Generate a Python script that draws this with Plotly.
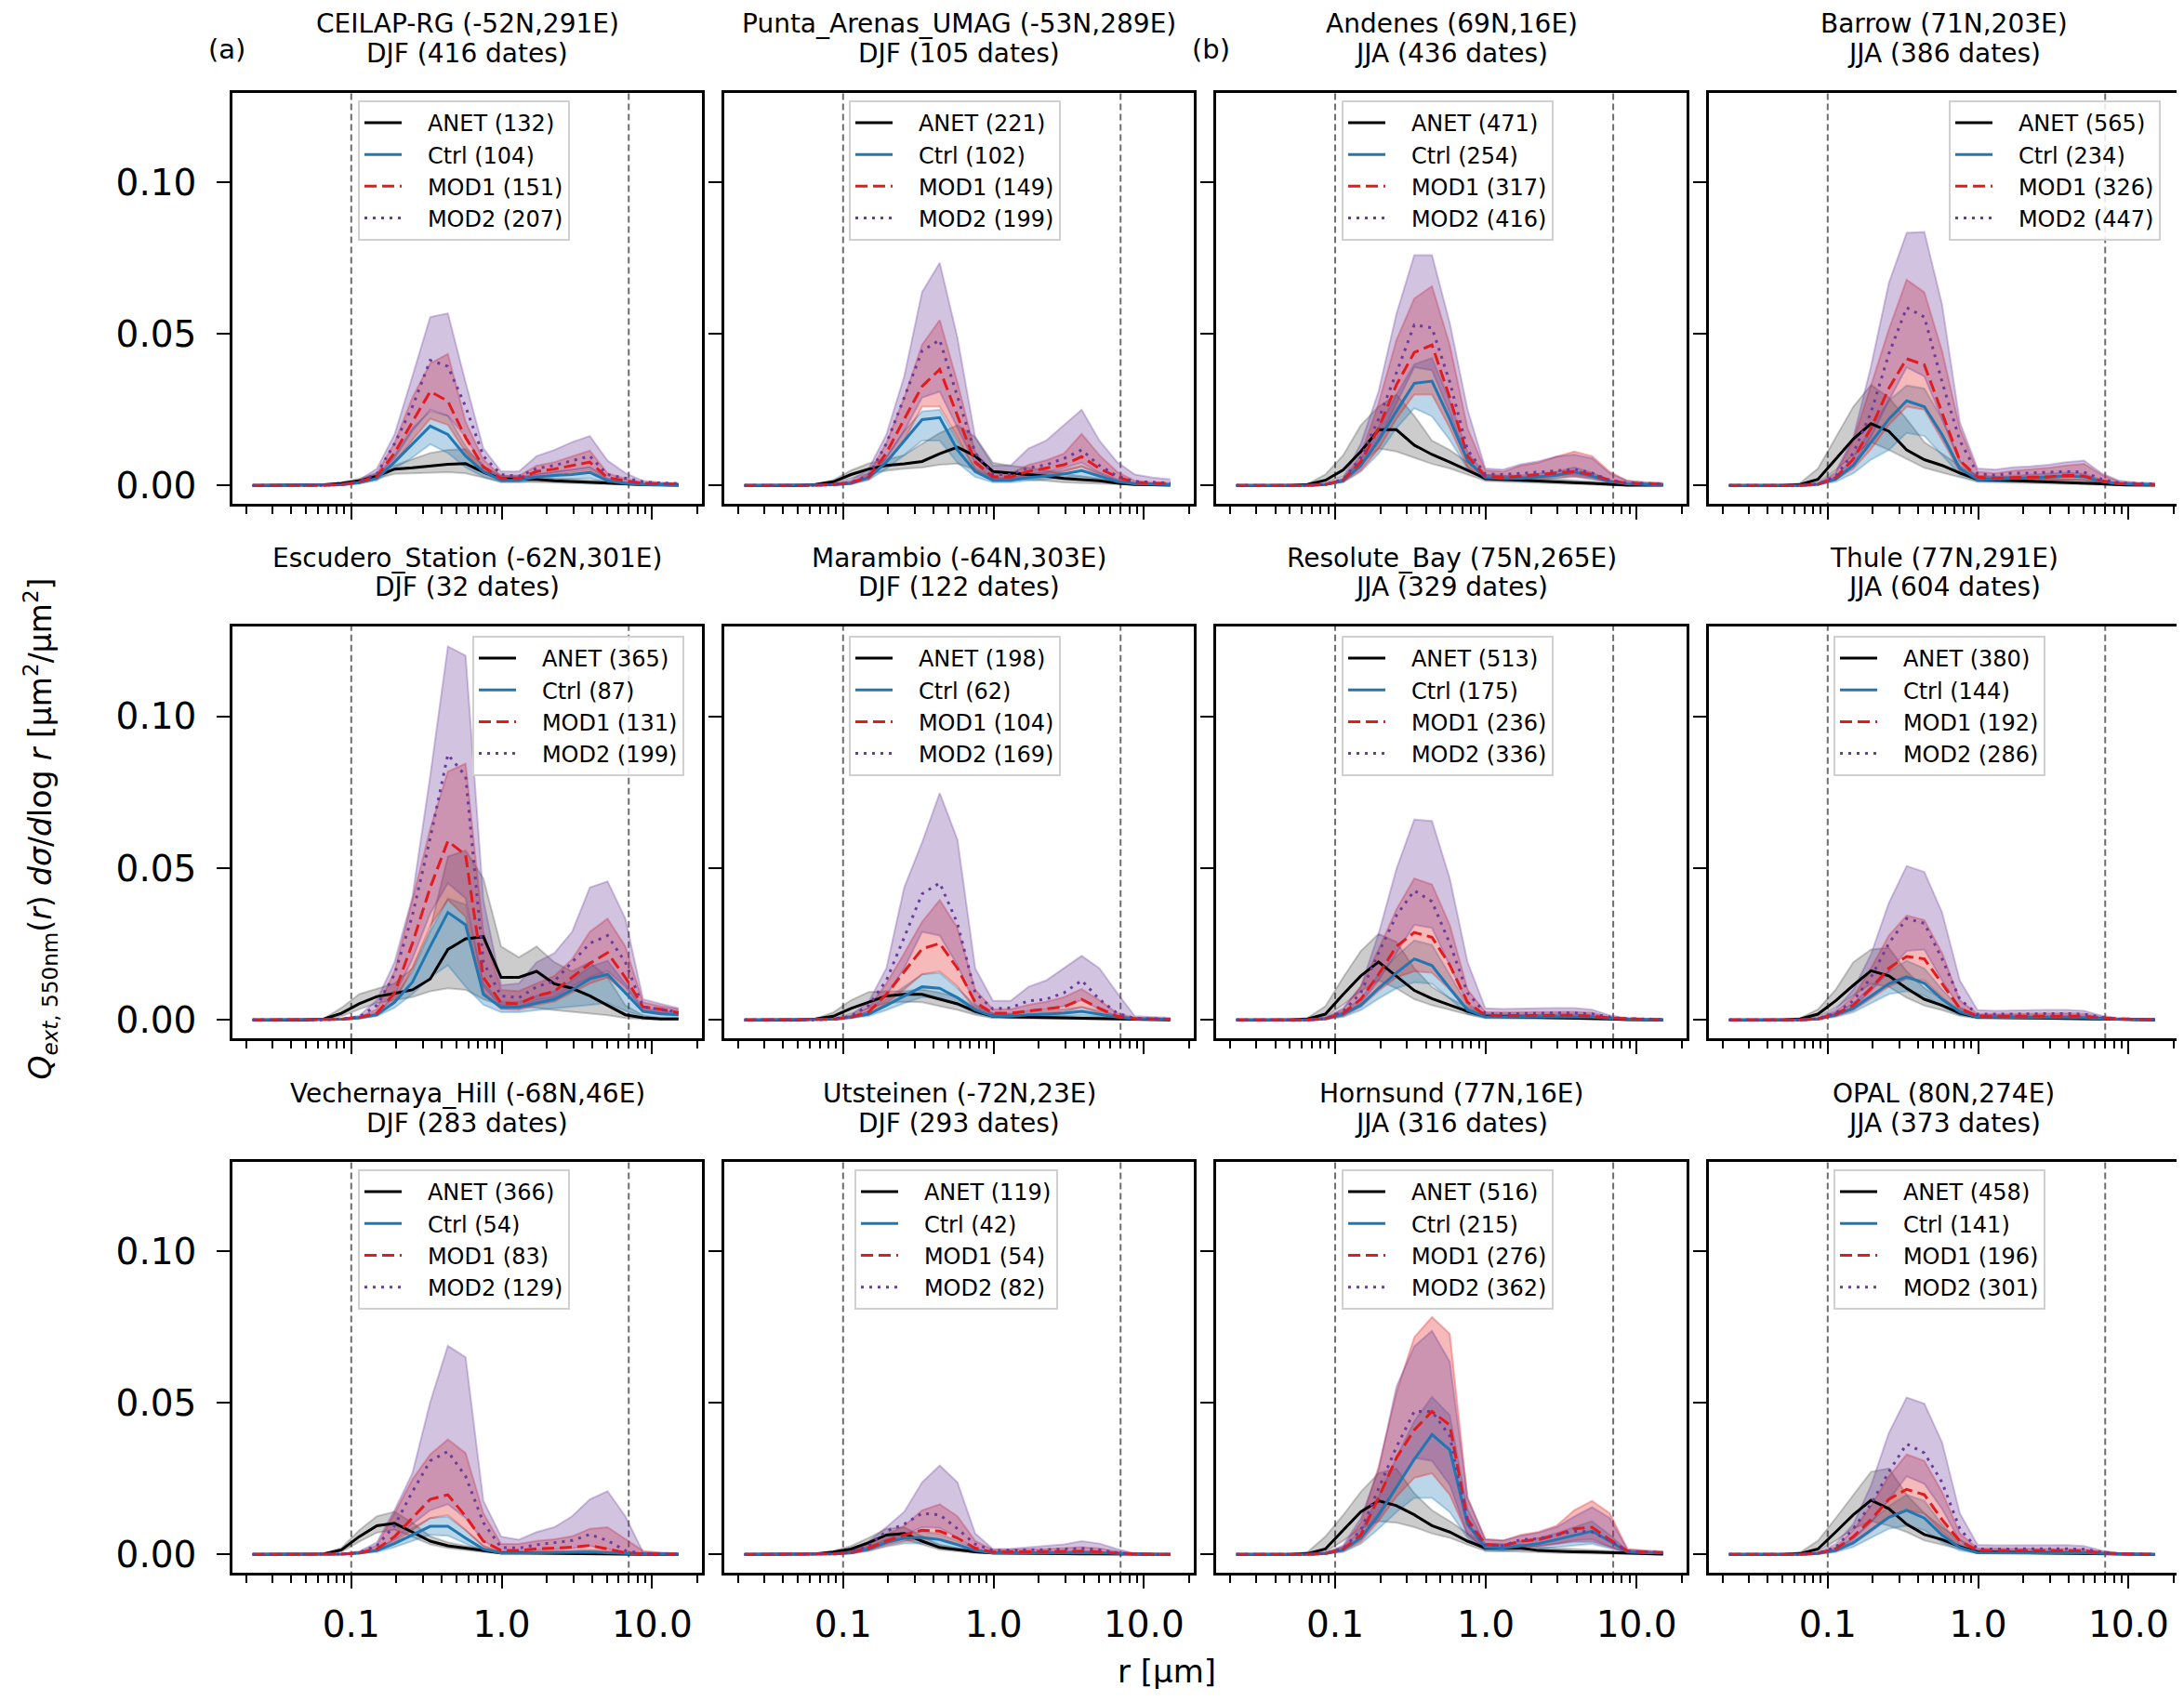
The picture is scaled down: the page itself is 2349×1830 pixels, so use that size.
import plotly.graph_objects as go

# radius bins [um]
R_UM = [0.0221, 0.0290, 0.0381, 0.0500, 0.0656, 0.0861, 0.113, 0.148, 0.194, 0.255, 0.335, 0.439,
        0.576, 0.756, 0.992, 1.302, 1.708, 2.241, 2.940, 3.857, 5.061, 6.641, 8.713, 11.43, 15.0]
GUIDE_R = [0.1, 7.0]
SCALE = 1e-3  # values below are in units of 1e-3 um2/um2

SITES = ["CEILAP-RG (-52N,291E)", "Punta_Arenas_UMAG (-53N,289E)", "Andenes (69N,16E)", "Barrow (71N,203E)",
         "Escudero_Station (-62N,301E)", "Marambio (-64N,303E)", "Resolute_Bay (75N,265E)", "Thule (77N,291E)",
         "Vechernaya_Hill (-68N,46E)", "Utsteinen (-72N,23E)", "Hornsund (77N,16E)", "OPAL (80N,274E)"]
SEASONS = ["DJF", "DJF", "JJA", "JJA", "DJF", "DJF", "JJA", "JJA", "DJF", "DJF", "JJA", "JJA"]
N_DATES = [416, 105, 436, 386, 32, 122, 329, 604, 283, 293, 316, 373]
N_ANET = [132, 221, 471, 565, 365, 198, 513, 380, 366, 119, 516, 458]
N_CTRL = [104, 102, 254, 234, 87, 62, 175, 144, 54, 42, 215, 141]
N_MOD1 = [151, 149, 317, 326, 131, 104, 236, 192, 83, 54, 276, 196]
N_MOD2 = [207, 199, 416, 447, 199, 169, 336, 286, 129, 82, 362, 301]

# CEILAP-RG
ceilap_anet = [0, 0, 0, 0, 0.2, 0.7, 1.5, 3.1, 5.4, 5.8, 6.4, 7.0, 7.2, 4.4, 2.2, 2.2, 2.0, 1.5, 1.3, 1.1, 0.8, 0.5, 0.2, 0.1, 0.1]
ceilap_anet_lo = [0, 0, 0, 0, 0.1, 0.4, 1.0, 2.2, 3.8, 4.0, 4.2, 4.4, 4.0, 2.6, 1.2, 1.2, 1.0, 0.8, 0.6, 0.5, 0.4, 0.2, 0.1, 0, 0]
ceilap_anet_hi = [0, 0, 0, 0, 0.3, 1.0, 2.2, 4.1, 6.6, 8.7, 10.7, 11.7, 12.0, 6.5, 3.2, 3.2, 3.0, 2.4, 2.1, 1.9, 1.4, 0.8, 0.3, 0.2, 0.1]
ceilap_ctrl = [0, 0, 0, 0, 0, 0.2, 0.9, 2.3, 7.7, 13.8, 19.6, 16.8, 9.7, 4.6, 1.7, 1.7, 2.8, 3.3, 3.6, 4.3, 1.5, 0.7, 0.3, 0.2, 0.1]
ceilap_ctrl_lo = [0, 0, 0, 0, 0, 0.1, 0.6, 1.6, 5.5, 9.2, 13.6, 10.7, 6.0, 2.8, 1.0, 1.0, 1.6, 1.9, 2.0, 2.4, 0.8, 0.4, 0.1, 0.1, 0]
ceilap_ctrl_hi = [0, 0, 0, 0, 0, 0.3, 1.2, 3.0, 10.0, 18.9, 24.5, 23.0, 13.0, 6.2, 2.4, 2.4, 3.8, 4.6, 5.1, 6.0, 2.2, 1.0, 0.5, 0.3, 0.2]
ceilap_mod1 = [0, 0, 0, 0, 0, 0.3, 1.2, 3.0, 10.7, 21.0, 31.0, 27.8, 15.8, 6.1, 2.3, 2.3, 4.6, 5.4, 6.6, 7.7, 2.6, 1.5, 0.7, 0.5, 0.4]
ceilap_mod1_lo = [0, 0, 0, 0, 0, 0.2, 0.8, 2.2, 7.5, 15.0, 22.0, 20.0, 11.0, 4.0, 1.5, 1.5, 3.0, 3.5, 4.3, 5.0, 1.7, 1.0, 0.4, 0.3, 0.2]
ceilap_mod1_hi = [0, 0, 0, 0, 0, 0.4, 1.6, 4.0, 14.0, 29.0, 40.3, 43.4, 21.0, 8.5, 3.2, 3.2, 6.5, 7.7, 9.5, 11.5, 4.0, 2.2, 1.0, 0.8, 0.6]
ceilap_mod2 = [0, 0, 0, 0, 0, 0.3, 1.3, 3.8, 13.8, 26.0, 41.3, 39.3, 26.0, 9.7, 3.6, 3.0, 5.6, 6.6, 8.2, 9.7, 3.6, 2.3, 1.2, 0.8, 0.6]
ceilap_mod2_lo = [0, 0, 0, 0, 0, 0.2, 0.9, 2.6, 9.0, 18.0, 25.0, 23.0, 16.0, 6.0, 2.2, 2.0, 3.5, 4.2, 5.2, 6.0, 2.2, 1.4, 0.7, 0.5, 0.4]
ceilap_mod2_hi = [0, 0, 0, 0, 0, 0.4, 1.8, 5.5, 16.8, 36.0, 55.6, 56.8, 34.0, 12.2, 4.6, 4.6, 9.7, 11.7, 14.3, 16.3, 8.2, 4.1, 1.5, 1.0, 0.8]

# Punta_Arenas_UMAG
punta_anet = [0, 0, 0, 0, 0.3, 1.2, 3.6, 5.4, 6.6, 7.1, 7.9, 10.5, 12.6, 9.7, 4.6, 4.1, 3.8, 3.1, 2.3, 1.9, 1.5, 0.8, 0.3, 0.2, 0.1]
punta_anet_lo = [0, 0, 0, 0, 0.1, 0.7, 2.2, 3.8, 4.8, 5.5, 5.9, 6.8, 7.2, 5.2, 2.5, 2.2, 2.0, 1.5, 1.0, 0.8, 0.6, 0.3, 0.1, 0, 0]
punta_anet_hi = [0, 0, 0, 0, 0.5, 1.8, 5.0, 7.3, 8.5, 10.0, 13.8, 17.3, 19.9, 16.0, 7.5, 6.5, 5.8, 4.8, 3.8, 3.0, 2.4, 1.3, 0.5, 0.3, 0.2]
punta_ctrl = [0, 0, 0, 0, 0, 0.2, 0.7, 2.6, 7.7, 14.8, 21.7, 22.4, 11.7, 4.6, 1.7, 1.7, 2.6, 3.1, 3.8, 4.9, 3.1, 1.3, 0.5, 0.3, 0.2]
punta_ctrl_lo = [0, 0, 0, 0, 0, 0.1, 0.4, 1.8, 5.5, 10.0, 14.8, 14.8, 7.5, 2.8, 1.0, 1.0, 1.6, 2.0, 2.4, 3.0, 1.8, 0.7, 0.2, 0.1, 0.1]
punta_ctrl_hi = [0, 0, 0, 0, 0, 0.3, 1.0, 3.3, 9.5, 18.0, 24.5, 25.0, 15.0, 6.0, 2.4, 2.4, 3.5, 4.2, 5.2, 6.5, 4.2, 1.8, 0.7, 0.4, 0.3]
punta_mod1 = [0, 0, 0, 0, 0, 0.3, 0.9, 2.8, 10.7, 21.9, 32.7, 38.3, 23.0, 7.7, 2.8, 2.8, 4.6, 5.6, 6.8, 9.5, 5.6, 2.8, 1.0, 0.8, 0.6]
punta_mod1_lo = [0, 0, 0, 0, 0, 0.2, 0.6, 2.0, 7.5, 15.0, 26.0, 26.0, 16.0, 5.0, 1.8, 1.8, 3.0, 3.7, 4.5, 6.2, 3.5, 1.8, 0.6, 0.5, 0.4]
punta_mod1_hi = [0, 0, 0, 0, 0, 0.4, 1.4, 3.8, 14.0, 29.0, 46.4, 54.6, 34.0, 11.0, 4.0, 4.0, 6.8, 8.3, 10.5, 17.0, 10.0, 4.5, 1.5, 1.0, 0.8]
punta_mod2 = [0, 0, 0, 0, 0, 0.3, 1.0, 3.3, 13.8, 29.0, 44.4, 48.0, 29.0, 10.7, 3.6, 3.6, 5.8, 6.8, 8.9, 11.7, 6.6, 3.1, 1.3, 1.0, 0.8]
punta_mod2_lo = [0, 0, 0, 0, 0, 0.2, 0.7, 2.6, 9.0, 18.0, 29.0, 31.0, 19.0, 7.0, 2.3, 2.3, 3.7, 4.4, 5.8, 7.5, 4.2, 2.0, 0.8, 0.6, 0.5]
punta_mod2_hi = [0, 0, 0, 0, 0, 0.5, 1.8, 5.5, 16.8, 36.0, 63.8, 73.5, 48.7, 15.8, 6.6, 6.6, 12.2, 14.8, 19.9, 25.0, 14.8, 7.7, 3.6, 2.6, 2.0]

# Andenes
andenes_anet = [0, 0, 0, 0, 0.3, 1.7, 5.1, 11.2, 18.4, 18.4, 13.3, 10.2, 7.7, 4.9, 2.3, 2.0, 1.7, 1.3, 1.1, 0.9, 0.7, 0.3, 0.1, 0.1, 0.1]
andenes_anet_lo = [0, 0, 0, 0, 0.2, 0.9, 3.0, 7.0, 12.2, 11.2, 9.2, 7.1, 5.6, 3.5, 1.5, 1.2, 1.0, 0.7, 0.5, 0.4, 0.3, 0.1, 0, 0, 0]
andenes_anet_hi = [0, 0, 0, 0, 0.5, 3.6, 10.0, 19.9, 26.0, 30.0, 23.0, 14.8, 11.7, 7.5, 3.5, 3.2, 2.8, 2.3, 2.0, 1.7, 1.3, 0.6, 0.2, 0.1, 0.1]
andenes_ctrl = [0, 0, 0, 0, 0, 0.3, 1.5, 6.6, 14.8, 24.5, 33.7, 34.4, 21.9, 8.2, 2.6, 2.3, 2.3, 2.8, 3.4, 4.4, 3.1, 1.3, 0.5, 0.3, 0.2]
andenes_ctrl_lo = [0, 0, 0, 0, 0, 0.2, 1.0, 4.5, 10.5, 18.9, 25.5, 22.8, 15.0, 5.5, 1.6, 1.5, 1.5, 1.8, 2.2, 2.8, 2.0, 0.8, 0.3, 0.2, 0.1]
andenes_ctrl_hi = [0, 0, 0, 0, 0, 0.4, 2.0, 8.5, 19.0, 30.0, 40.0, 42.0, 28.0, 11.0, 3.5, 3.2, 3.2, 3.8, 4.5, 6.0, 4.2, 1.8, 0.7, 0.4, 0.3]
andenes_mod1 = [0, 0, 0, 0, 0, 0.3, 1.8, 7.7, 18.9, 33.2, 43.9, 46.4, 29.0, 9.7, 3.1, 2.6, 3.1, 3.6, 4.1, 4.6, 3.6, 1.7, 0.7, 0.5, 0.4]
andenes_mod1_lo = [0, 0, 0, 0, 0, 0.2, 1.2, 5.0, 12.0, 22.0, 30.0, 30.0, 19.0, 6.0, 2.0, 1.7, 2.0, 2.3, 2.6, 3.0, 2.3, 1.0, 0.4, 0.3, 0.2]
andenes_mod1_hi = [0, 0, 0, 0, 0, 0.4, 2.0, 10.0, 27.0, 48.0, 61.7, 65.8, 46.4, 18.9, 5.0, 4.5, 6.5, 7.5, 9.5, 11.2, 9.7, 4.5, 1.5, 1.0, 0.8]
andenes_mod2 = [0, 0, 0, 0, 0, 0.3, 2.0, 9.2, 21.9, 37.2, 53.0, 52.0, 34.2, 11.7, 3.8, 3.6, 4.1, 4.4, 4.8, 5.4, 4.1, 1.7, 0.8, 0.6, 0.5]
andenes_mod2_lo = [0, 0, 0, 0, 0, 0.2, 1.4, 6.0, 15.0, 27.0, 39.0, 38.0, 24.0, 8.0, 2.4, 2.3, 2.6, 2.9, 3.2, 3.5, 2.6, 1.1, 0.5, 0.4, 0.3]
andenes_mod2_hi = [0, 0, 0, 0, 0, 0.5, 2.5, 13.8, 31.0, 56.6, 76.0, 76.0, 53.6, 25.0, 5.6, 5.2, 7.0, 8.0, 9.5, 10.2, 9.0, 4.0, 1.5, 1.0, 0.8]

# Barrow
barrow_anet = [0, 0, 0, 0, 0.3, 2.0, 8.7, 15.3, 20.4, 17.9, 11.7, 8.5, 6.6, 4.1, 2.0, 1.8, 1.7, 1.5, 1.3, 1.1, 0.9, 0.5, 0.2, 0.1, 0.1]
barrow_anet_lo = [0, 0, 0, 0, 0.2, 1.0, 5.0, 10.0, 14.3, 11.7, 8.7, 5.8, 4.2, 2.6, 1.2, 1.0, 0.9, 0.8, 0.6, 0.5, 0.4, 0.2, 0, 0, 0]
barrow_anet_hi = [0, 0, 0, 0, 0.8, 5.6, 15.8, 26.0, 33.2, 29.0, 21.9, 14.3, 10.5, 6.5, 3.2, 3.0, 2.8, 2.6, 2.4, 2.2, 1.8, 0.9, 0.3, 0.2, 0.1]
barrow_ctrl = [0, 0, 0, 0, 0, 0.4, 2.0, 6.6, 14.3, 21.9, 27.9, 26.0, 16.8, 5.6, 2.0, 2.0, 2.3, 2.6, 2.9, 3.1, 2.8, 1.3, 0.5, 0.3, 0.2]
barrow_ctrl_lo = [0, 0, 0, 0, 0, 0.2, 1.2, 4.0, 8.5, 11.7, 17.3, 16.3, 10.0, 3.5, 1.2, 1.2, 1.4, 1.6, 1.8, 1.9, 1.7, 0.7, 0.2, 0.1, 0.1]
barrow_ctrl_hi = [0, 0, 0, 0, 0, 0.6, 3.0, 9.0, 19.0, 28.0, 33.0, 32.0, 22.0, 8.0, 2.8, 2.8, 3.2, 3.6, 4.0, 4.3, 3.8, 1.8, 0.7, 0.4, 0.3]
barrow_mod1 = [0, 0, 0, 0, 0, 0.4, 2.5, 8.7, 18.9, 32.1, 41.8, 39.8, 24.0, 8.2, 2.8, 2.3, 2.6, 2.8, 2.8, 3.4, 3.1, 1.5, 0.6, 0.4, 0.3]
barrow_mod1_lo = [0, 0, 0, 0, 0, 0.2, 2.0, 5.5, 12.0, 20.0, 26.0, 25.0, 15.0, 4.5, 1.6, 1.5, 1.6, 1.8, 1.8, 2.0, 1.8, 0.8, 0.3, 0.2, 0.2]
barrow_mod1_hi = [0, 0, 0, 0, 0, 0.5, 4.0, 14.8, 33.0, 51.5, 67.9, 63.8, 44.4, 18.9, 4.5, 4.0, 4.8, 5.2, 5.8, 6.6, 7.1, 3.5, 1.2, 0.8, 0.6]
barrow_mod2 = [0, 0, 0, 0, 0, 0.4, 3.0, 10.7, 24.0, 43.4, 58.7, 55.6, 34.2, 14.8, 3.8, 3.4, 4.1, 4.1, 4.3, 4.6, 4.4, 2.0, 0.8, 0.6, 0.5]
barrow_mod2_lo = [0, 0, 0, 0, 0, 0.3, 2.5, 7.0, 16.0, 28.0, 39.0, 36.0, 22.0, 8.0, 2.3, 2.2, 2.6, 2.7, 2.8, 3.0, 2.9, 1.2, 0.5, 0.4, 0.3]
barrow_mod2_hi = [0, 0, 0, 0, 0, 0.6, 4.5, 15.8, 39.3, 66.8, 83.4, 83.7, 59.7, 20.9, 5.6, 5.2, 6.0, 6.3, 6.8, 7.7, 8.2, 4.0, 1.5, 1.0, 0.8]

# Escudero_Station
escudero_anet = [0, 0, 0, 0, 0.3, 2.2, 5.3, 7.7, 8.7, 9.9, 13.5, 23.2, 26.7, 27.4, 14.0, 14.0, 16.0, 11.9, 10.4, 7.9, 4.8, 1.7, 0.7, 0.3, 0.3]
escudero_anet_lo = [0, 0, 0, 0, 0.1, 1.2, 3.5, 5.5, 6.5, 7.5, 9.4, 10.4, 9.9, 6.8, 4.8, 4.5, 4.0, 3.2, 2.6, 2.0, 1.5, 0.6, 0.2, 0.1, 0.1]
escudero_anet_hi = [0, 0, 0, 0, 0.4, 4.0, 8.5, 10.2, 12.0, 17.0, 30.0, 53.8, 55.8, 46.6, 24.2, 20.6, 24.2, 19.0, 16.0, 19.0, 14.0, 4.8, 1.5, 0.6, 0.5]
escudero_ctrl = [0, 0, 0, 0, 0, 0.2, 0.7, 1.7, 5.8, 12.4, 24.2, 35.4, 31.3, 8.4, 4.1, 4.1, 5.6, 6.8, 9.9, 13.5, 15.0, 8.9, 2.8, 2.0, 1.7]
escudero_ctrl_lo = [0, 0, 0, 0, 0, 0.1, 0.4, 1.2, 4.0, 8.5, 14.0, 18.0, 10.9, 5.0, 2.5, 2.5, 3.2, 3.8, 4.5, 5.0, 5.5, 3.0, 1.0, 0.7, 0.6]
escudero_ctrl_hi = [0, 0, 0, 0, 0, 0.2, 1.0, 2.3, 7.5, 16.0, 29.0, 40.0, 38.0, 12.0, 6.0, 6.0, 8.0, 9.5, 13.0, 17.5, 19.5, 12.0, 4.0, 3.0, 2.5]
escudero_mod1 = [0, 0, 0, 0, 0, 0.2, 0.8, 2.2, 8.9, 25.2, 43.6, 58.9, 54.3, 14.0, 5.6, 5.3, 7.9, 9.4, 14.0, 18.6, 22.1, 14.0, 4.3, 3.5, 2.4]
escudero_mod1_lo = [0, 0, 0, 0, 0, 0.1, 0.5, 1.5, 6.0, 17.0, 31.0, 39.5, 34.0, 9.0, 3.5, 3.3, 5.0, 6.0, 9.0, 12.0, 14.0, 9.0, 2.8, 2.2, 1.6]
escudero_mod1_hi = [0, 0, 0, 0, 0, 0.3, 1.1, 3.5, 16.0, 39.5, 63.0, 81.8, 84.4, 29.0, 9.9, 9.5, 12.0, 14.5, 20.0, 29.0, 33.4, 24.2, 5.8, 4.5, 3.5]
escudero_mod2 = [0, 0, 0, 0, 0, 0.3, 1.0, 4.8, 15.0, 34.4, 59.9, 87.4, 80.3, 19.0, 7.9, 7.3, 10.9, 12.8, 19.0, 25.2, 27.8, 19.0, 4.3, 3.5, 2.6]
escudero_mod2_lo = [0, 0, 0, 0, 0, 0.1, 0.6, 2.0, 8.0, 20.0, 35.0, 45.0, 40.0, 11.0, 4.5, 4.3, 6.5, 7.5, 11.0, 14.0, 16.0, 11.0, 3.0, 2.3, 1.7]
escudero_mod2_hi = [0, 0, 0, 0, 0, 0.4, 1.4, 6.5, 19.0, 40.5, 80.3, 123.0, 120.0, 39.5, 11.4, 12.0, 19.0, 22.0, 29.0, 43.6, 45.6, 33.4, 6.8, 5.3, 3.8]

# Marambio
marambio_anet = [0, 0, 0, 0, 0.3, 1.2, 3.8, 5.8, 7.9, 8.4, 8.4, 6.8, 5.3, 2.8, 1.2, 1.0, 0.9, 0.8, 0.7, 0.6, 0.5, 0.3, 0.1, 0.1, 0]
marambio_anet_lo = [0, 0, 0, 0, 0.1, 0.5, 2.0, 3.8, 5.5, 6.0, 5.8, 4.5, 3.3, 1.7, 0.6, 0.5, 0.4, 0.4, 0.3, 0.3, 0.2, 0.1, 0, 0, 0]
marambio_anet_hi = [0, 0, 0, 0, 0.4, 2.5, 6.5, 9.2, 9.4, 9.5, 10.0, 9.0, 7.5, 4.2, 2.2, 1.8, 1.6, 1.4, 1.3, 1.2, 1.0, 0.5, 0.2, 0.1, 0.1]
marambio_ctrl = [0, 0, 0, 0, 0, 0.2, 0.9, 1.9, 4.8, 7.9, 10.9, 10.4, 7.3, 3.3, 1.2, 1.2, 1.7, 1.9, 2.2, 2.8, 1.9, 0.9, 0.4, 0.3, 0.2]
marambio_ctrl_lo = [0, 0, 0, 0, 0, 0.1, 0.5, 1.3, 3.2, 5.5, 7.5, 7.2, 5.0, 2.2, 0.7, 0.7, 1.0, 1.1, 1.3, 1.6, 1.1, 0.5, 0.2, 0.1, 0.1]
marambio_ctrl_hi = [0, 0, 0, 0, 0, 0.3, 1.4, 2.8, 6.8, 11.0, 15.0, 15.5, 10.5, 4.8, 1.9, 1.9, 2.6, 3.0, 3.5, 4.3, 3.0, 1.4, 0.6, 0.4, 0.3]
marambio_mod1 = [0, 0, 0, 0, 0, 0.2, 0.9, 2.6, 8.4, 16.0, 23.4, 25.2, 17.0, 5.8, 2.2, 2.2, 3.0, 3.6, 4.3, 6.8, 3.8, 1.2, 0.4, 0.3, 0.2]
marambio_mod1_lo = [0, 0, 0, 0, 0, 0.1, 0.6, 1.8, 5.5, 10.0, 15.0, 16.0, 11.0, 3.5, 1.3, 1.3, 1.8, 2.2, 2.6, 4.2, 2.3, 0.7, 0.2, 0.1, 0.1]
marambio_mod1_hi = [0, 0, 0, 0, 0, 0.3, 1.2, 4.0, 12.0, 22.0, 32.3, 39.5, 30.3, 10.0, 3.5, 3.5, 5.0, 6.0, 7.5, 10.2, 6.5, 2.2, 0.7, 0.5, 0.4]
marambio_mod2 = [0, 0, 0, 0, 0, 0.3, 1.2, 4.8, 13.0, 27.2, 41.5, 45.1, 31.8, 8.9, 3.6, 4.0, 6.3, 6.8, 8.9, 13.0, 6.8, 2.2, 0.5, 0.4, 0.3]
marambio_mod2_lo = [0, 0, 0, 0, 0, 0.1, 0.8, 2.6, 8.0, 17.0, 29.0, 27.8, 18.0, 5.0, 2.0, 2.0, 3.0, 3.5, 4.5, 6.5, 3.5, 1.0, 0.3, 0.2, 0.2]
marambio_mod2_hi = [0, 0, 0, 0, 0, 0.4, 1.6, 6.0, 17.0, 43.6, 58.4, 74.7, 59.4, 17.0, 6.3, 6.3, 10.9, 13.0, 17.0, 21.1, 17.0, 8.9, 1.2, 0.9, 0.7]

# Resolute_Bay
resolute_anet = [0, 0, 0, 0, 0.3, 1.9, 8.4, 14.5, 19.1, 14.5, 9.7, 7.0, 4.8, 2.8, 1.2, 1.1, 1.0, 0.9, 0.8, 0.7, 0.5, 0.3, 0.1, 0, 0]
resolute_anet_lo = [0, 0, 0, 0, 0.2, 1.0, 5.0, 9.5, 13.0, 10.4, 6.8, 4.8, 3.2, 1.8, 0.7, 0.6, 0.5, 0.4, 0.4, 0.3, 0.2, 0.1, 0, 0, 0]
resolute_anet_hi = [0, 0, 0, 0, 0.7, 4.5, 14.0, 22.7, 28.3, 25.7, 17.0, 10.9, 7.2, 4.2, 1.9, 1.8, 1.7, 1.6, 1.5, 1.3, 1.0, 0.5, 0.2, 0.1, 0.1]
resolute_ctrl = [0, 0, 0, 0, 0, 0.4, 1.9, 4.8, 10.4, 15.5, 20.1, 17.9, 10.4, 3.3, 1.0, 1.0, 1.1, 1.1, 1.0, 1.0, 0.9, 0.5, 0.2, 0.1, 0.1]
resolute_ctrl_lo = [0, 0, 0, 0, 0, 0.2, 1.0, 3.2, 7.0, 10.4, 12.4, 11.9, 7.0, 2.0, 0.5, 0.5, 0.5, 0.5, 0.5, 0.5, 0.4, 0.2, 0.1, 0, 0]
resolute_ctrl_hi = [0, 0, 0, 0, 0, 0.6, 2.8, 7.0, 15.0, 21.0, 26.2, 24.7, 15.0, 5.0, 1.8, 1.8, 1.9, 1.9, 1.9, 1.9, 1.6, 0.8, 0.3, 0.2, 0.1]
resolute_mod1 = [0, 0, 0, 0, 0, 0.4, 2.2, 6.8, 15.0, 24.2, 28.8, 27.2, 18.1, 5.8, 1.5, 1.4, 1.5, 1.5, 1.5, 1.5, 1.3, 0.6, 0.3, 0.2, 0.1]
resolute_mod1_lo = [0, 0, 0, 0, 0, 0.2, 1.2, 4.3, 9.5, 14.0, 16.0, 15.5, 10.0, 3.0, 0.8, 0.8, 0.8, 0.8, 0.8, 0.8, 0.7, 0.3, 0.1, 0.1, 0]
resolute_mod1_hi = [0, 0, 0, 0, 0, 0.6, 3.5, 11.0, 23.2, 36.4, 46.6, 44.6, 31.3, 10.0, 2.6, 2.5, 2.6, 2.6, 2.7, 2.7, 2.4, 1.0, 0.3, 0.2, 0.1]
resolute_mod2 = [0, 0, 0, 0, 0, 0.4, 2.8, 8.9, 22.1, 34.4, 42.6, 39.0, 25.2, 8.9, 2.2, 2.0, 2.2, 2.2, 2.3, 2.3, 2.0, 0.9, 0.4, 0.3, 0.2]
resolute_mod2_lo = [0, 0, 0, 0, 0, 0.3, 1.5, 5.5, 13.0, 22.0, 31.3, 30.3, 18.0, 5.5, 1.2, 1.2, 1.2, 1.3, 1.3, 1.3, 1.1, 0.5, 0.2, 0.1, 0.1]
resolute_mod2_hi = [0, 0, 0, 0, 0, 0.7, 4.0, 11.0, 28.3, 49.7, 66.0, 65.5, 46.6, 19.0, 3.8, 3.6, 3.8, 3.8, 3.9, 3.9, 3.4, 1.5, 0.5, 0.3, 0.2]

# Thule
thule_anet = [0, 0, 0, 0, 0.3, 1.9, 6.3, 11.4, 16.2, 14.5, 10.4, 6.8, 4.8, 2.2, 0.9, 0.8, 0.7, 0.6, 0.5, 0.5, 0.4, 0.2, 0.1, 0, 0]
thule_anet_lo = [0, 0, 0, 0, 0.2, 1.0, 4.0, 8.0, 11.9, 10.9, 7.3, 4.7, 3.2, 1.4, 0.5, 0.4, 0.4, 0.3, 0.3, 0.2, 0.2, 0.1, 0, 0, 0]
thule_anet_hi = [0, 0, 0, 0, 0.6, 3.5, 10.0, 19.0, 23.2, 23.7, 16.0, 10.5, 7.0, 3.5, 1.5, 1.3, 1.2, 1.1, 1.0, 0.9, 0.8, 0.4, 0.2, 0.1, 0.1]
thule_ctrl = [0, 0, 0, 0, 0, 0.3, 1.7, 3.8, 7.9, 11.9, 14.2, 12.1, 6.8, 2.6, 0.9, 0.9, 0.9, 0.9, 0.8, 0.8, 0.7, 0.4, 0.2, 0.1, 0.1]
thule_ctrl_lo = [0, 0, 0, 0, 0, 0.2, 1.0, 2.5, 5.5, 8.5, 9.5, 8.0, 4.5, 1.5, 0.5, 0.5, 0.5, 0.5, 0.4, 0.4, 0.3, 0.2, 0.1, 0, 0]
thule_ctrl_hi = [0, 0, 0, 0, 0, 0.4, 2.4, 5.5, 11.0, 16.0, 19.5, 17.0, 10.0, 4.0, 1.5, 1.5, 1.5, 1.5, 1.4, 1.4, 1.2, 0.7, 0.3, 0.2, 0.1]
thule_mod1 = [0, 0, 0, 0, 0, 0.3, 1.9, 4.8, 10.4, 17.0, 20.9, 20.1, 11.9, 3.8, 1.2, 1.2, 1.2, 1.3, 1.3, 1.3, 1.2, 0.6, 0.3, 0.2, 0.1]
thule_mod1_lo = [0, 0, 0, 0, 0, 0.2, 1.2, 3.2, 7.0, 11.0, 13.5, 13.0, 7.5, 2.3, 0.7, 0.7, 0.7, 0.8, 0.8, 0.8, 0.7, 0.3, 0.1, 0.1, 0]
thule_mod1_hi = [0, 0, 0, 0, 0, 0.5, 2.8, 7.5, 17.0, 27.8, 34.4, 32.9, 22.1, 6.5, 2.0, 2.0, 2.1, 2.2, 2.2, 2.2, 2.0, 1.0, 0.4, 0.3, 0.2]
thule_mod2 = [0, 0, 0, 0, 0, 0.4, 2.2, 6.3, 14.0, 25.2, 33.4, 31.8, 20.1, 6.8, 1.9, 1.9, 2.0, 2.0, 2.1, 2.1, 1.9, 0.9, 0.3, 0.2, 0.2]
thule_mod2_lo = [0, 0, 0, 0, 0, 0.3, 1.4, 4.2, 9.5, 16.0, 22.7, 23.2, 13.0, 4.0, 1.0, 1.0, 1.1, 1.1, 1.1, 1.2, 1.0, 0.5, 0.2, 0.1, 0.1]
thule_mod2_hi = [0, 0, 0, 0, 0, 0.6, 3.5, 10.0, 21.6, 38.5, 50.7, 48.7, 35.4, 13.0, 3.2, 3.0, 3.2, 3.2, 3.3, 3.3, 3.0, 1.4, 0.5, 0.3, 0.2]

# Vechernaya_Hill
vech_anet = [0, 0, 0, 0, 0.2, 1.5, 5.9, 9.5, 10.3, 7.4, 4.4, 2.9, 2.1, 1.3, 0.5, 0.5, 0.4, 0.4, 0.3, 0.3, 0.2, 0.1, 0, 0, 0]
vech_anet_lo = [0, 0, 0, 0, 0.1, 0.9, 4.2, 7.2, 8.2, 5.8, 3.3, 2.1, 1.4, 0.8, 0.3, 0.3, 0.2, 0.2, 0.2, 0.1, 0.1, 0, 0, 0, 0]
vech_anet_hi = [0, 0, 0, 0, 0.3, 2.2, 8.0, 12.6, 14.1, 10.5, 6.0, 4.0, 2.9, 1.8, 0.8, 0.7, 0.6, 0.6, 0.5, 0.5, 0.4, 0.2, 0.1, 0, 0]
vech_ctrl = [0, 0, 0, 0, 0, 0.1, 0.5, 1.3, 3.6, 6.4, 9.3, 9.3, 5.4, 1.8, 0.5, 0.5, 0.6, 0.6, 0.7, 0.8, 0.6, 0.3, 0.1, 0.1, 0]
vech_ctrl_lo = [0, 0, 0, 0, 0, 0.1, 0.3, 0.8, 2.4, 4.4, 6.5, 6.2, 3.5, 1.0, 0.3, 0.3, 0.3, 0.3, 0.4, 0.4, 0.3, 0.1, 0, 0, 0]
vech_ctrl_hi = [0, 0, 0, 0, 0, 0.2, 0.8, 1.9, 5.0, 8.8, 12.0, 12.5, 8.0, 3.0, 0.8, 0.8, 1.0, 1.0, 1.1, 1.3, 1.0, 0.5, 0.2, 0.1, 0.1]
vech_mod1 = [0, 0, 0, 0, 0, 0.1, 0.5, 1.8, 5.9, 12.0, 18.2, 19.7, 12.6, 4.4, 1.3, 1.3, 1.9, 2.1, 2.4, 3.0, 1.9, 0.6, 0.2, 0.1, 0.1]
vech_mod1_lo = [0, 0, 0, 0, 0, 0.1, 0.3, 1.2, 4.0, 8.0, 12.0, 13.0, 8.0, 2.6, 0.7, 0.7, 1.0, 1.1, 1.2, 1.5, 1.0, 0.3, 0.1, 0, 0]
vech_mod1_hi = [0, 0, 0, 0, 0, 0.2, 0.8, 3.0, 13.6, 24.8, 33.0, 38.0, 33.5, 13.6, 3.5, 3.5, 4.5, 5.0, 6.0, 8.5, 9.0, 5.0, 1.2, 0.6, 0.4]
vech_mod2 = [0, 0, 0, 0, 0, 0.1, 0.6, 2.9, 9.5, 20.7, 30.9, 34.0, 25.8, 10.5, 2.3, 2.1, 3.2, 3.9, 4.6, 6.6, 4.6, 1.3, 0.3, 0.2, 0.1]
vech_mod2_lo = [0, 0, 0, 0, 0, 0.1, 0.4, 1.5, 5.0, 10.0, 14.6, 16.6, 12.0, 4.5, 1.0, 1.0, 1.4, 1.7, 2.0, 2.8, 1.8, 0.5, 0.1, 0, 0]
vech_mod2_hi = [0, 0, 0, 0, 0, 0.2, 1.0, 4.0, 14.6, 26.8, 50.3, 68.9, 65.1, 17.7, 5.9, 4.9, 7.4, 9.0, 12.6, 18.2, 20.9, 12.6, 0.8, 0.5, 0.3]

# Utsteinen
utst_anet = [0, 0, 0, 0, 0.2, 0.8, 1.8, 3.9, 6.4, 6.9, 4.4, 2.3, 1.5, 0.9, 0.5, 0.4, 0.3, 0.3, 0.2, 0.2, 0.2, 0.1, 0, 0, 0]
utst_anet_lo = [0, 0, 0, 0, 0.1, 0.4, 1.1, 2.6, 4.5, 5.0, 3.2, 1.6, 1.0, 0.5, 0.3, 0.2, 0.2, 0.1, 0.1, 0.1, 0.1, 0, 0, 0, 0]
utst_anet_hi = [0, 0, 0, 0, 0.3, 1.2, 2.8, 5.5, 8.5, 9.0, 6.0, 3.2, 2.1, 1.3, 0.8, 0.6, 0.5, 0.5, 0.4, 0.4, 0.3, 0.2, 0.1, 0, 0]
utst_ctrl = [0, 0, 0, 0, 0, 0.2, 0.6, 1.8, 3.9, 5.4, 5.6, 4.9, 3.2, 1.3, 0.5, 0.5, 0.5, 0.6, 0.6, 0.7, 0.6, 0.3, 0.1, 0, 0]
utst_ctrl_lo = [0, 0, 0, 0, 0, 0.1, 0.3, 1.1, 2.6, 3.6, 3.7, 3.2, 2.0, 0.8, 0.3, 0.3, 0.3, 0.3, 0.4, 0.4, 0.3, 0.1, 0, 0, 0]
utst_ctrl_hi = [0, 0, 0, 0, 0, 0.2, 0.9, 2.5, 5.2, 7.2, 7.6, 6.8, 4.5, 1.9, 0.7, 0.7, 0.8, 0.9, 0.9, 1.1, 0.9, 0.5, 0.2, 0.1, 0]
utst_mod1 = [0, 0, 0, 0, 0, 0.2, 0.6, 2.1, 4.4, 6.4, 8.0, 7.7, 5.4, 2.1, 0.8, 0.8, 0.9, 0.9, 1.0, 1.1, 0.9, 0.4, 0.1, 0, 0]
utst_mod1_lo = [0, 0, 0, 0, 0, 0.1, 0.3, 1.3, 3.0, 4.3, 5.2, 5.0, 3.4, 1.2, 0.4, 0.4, 0.5, 0.5, 0.6, 0.6, 0.5, 0.2, 0, 0, 0]
utst_mod1_hi = [0, 0, 0, 0, 0, 0.2, 1.0, 3.3, 6.5, 9.5, 14.6, 16.6, 12.6, 4.5, 1.5, 1.5, 1.7, 1.8, 2.0, 2.4, 2.0, 1.0, 0.3, 0.1, 0]
utst_mod2 = [0, 0, 0, 0, 0, 0.2, 0.8, 2.9, 7.7, 10.0, 13.6, 13.1, 8.5, 3.4, 1.3, 1.3, 1.5, 1.6, 1.8, 2.0, 1.5, 0.6, 0.1, 0, 0]
utst_mod2_lo = [0, 0, 0, 0, 0, 0.1, 0.4, 1.6, 4.0, 6.5, 9.0, 8.8, 5.5, 1.8, 0.6, 0.6, 0.7, 0.8, 0.9, 1.0, 0.7, 0.3, 0, 0, 0]
utst_mod2_hi = [0, 0, 0, 0, 0, 0.3, 1.2, 4.3, 9.0, 14.1, 23.8, 29.4, 23.8, 6.9, 1.8, 1.9, 2.3, 2.7, 3.3, 4.4, 3.6, 1.8, 0.3, 0.1, 0]

# Hornsund
horn_anet = [0, 0, 0, 0, 0.3, 1.8, 8.0, 14.1, 17.7, 16.1, 13.1, 9.5, 7.4, 4.4, 2.1, 2.1, 2.1, 1.3, 1.0, 0.9, 0.8, 0.6, 0.3, 0.2, 0.1]
horn_anet_lo = [0, 0, 0, 0, 0.2, 0.9, 4.5, 8.5, 11.0, 10.5, 9.0, 6.9, 5.5, 3.2, 1.2, 1.1, 1.0, 0.7, 0.5, 0.4, 0.4, 0.3, 0.1, 0, 0]
horn_anet_hi = [0, 0, 0, 0, 0.8, 5.9, 13.0, 20.7, 26.8, 28.4, 20.2, 14.6, 11.0, 7.0, 3.5, 3.4, 3.3, 2.5, 2.0, 1.8, 1.6, 1.2, 0.5, 0.3, 0.2]
horn_ctrl = [0, 0, 0, 0, 0, 0.3, 1.5, 5.4, 13.1, 22.2, 31.4, 39.6, 34.5, 10.0, 2.3, 2.1, 2.9, 3.6, 4.9, 6.4, 7.7, 4.4, 0.8, 0.6, 0.5]
horn_ctrl_lo = [0, 0, 0, 0, 0, 0.2, 0.8, 3.5, 8.5, 14.0, 18.7, 18.7, 14.0, 5.5, 1.2, 1.1, 1.5, 1.8, 2.4, 3.0, 3.5, 2.0, 0.4, 0.3, 0.2]
horn_ctrl_hi = [0, 0, 0, 0, 0, 0.4, 2.5, 8.0, 19.0, 32.0, 44.0, 52.0, 46.0, 15.0, 3.5, 3.3, 4.5, 5.5, 7.0, 9.0, 11.0, 6.5, 1.2, 0.9, 0.7]
horn_mod1 = [0, 0, 0, 0, 0, 0.3, 1.8, 6.4, 18.7, 31.9, 41.1, 47.2, 42.7, 11.5, 3.4, 2.9, 4.4, 4.9, 6.4, 8.5, 9.0, 4.9, 1.1, 0.8, 0.6]
horn_mod1_lo = [0, 0, 0, 0, 0, 0.2, 1.0, 4.2, 11.0, 19.0, 25.3, 26.8, 19.7, 6.5, 1.8, 1.6, 2.4, 2.7, 3.5, 4.6, 5.0, 2.6, 0.5, 0.4, 0.3]
horn_mod1_hi = [0, 0, 0, 0, 0, 0.4, 2.5, 10.5, 28.9, 53.4, 71.7, 78.4, 72.8, 18.7, 5.0, 4.6, 6.5, 7.5, 9.5, 14.6, 17.7, 13.6, 1.8, 1.3, 1.0]
horn_mod2 = [0, 0, 0, 0, 0, 0.3, 2.0, 8.0, 21.7, 35.5, 47.2, 47.2, 39.1, 10.5, 3.2, 2.9, 4.9, 5.2, 6.4, 7.7, 7.4, 4.6, 1.0, 0.8, 0.6]
horn_mod2_lo = [0, 0, 0, 0, 0, 0.2, 1.3, 5.0, 12.0, 22.0, 31.9, 30.9, 23.0, 6.5, 1.8, 1.6, 2.6, 2.9, 3.5, 4.2, 4.2, 2.5, 0.5, 0.4, 0.3]
horn_mod2_hi = [0, 0, 0, 0, 0, 0.5, 3.0, 12.0, 27.9, 55.4, 68.7, 73.8, 63.6, 18.7, 5.0, 4.6, 6.2, 7.2, 9.0, 12.5, 15.6, 12.0, 1.6, 1.2, 0.9]

# OPAL
opal_anet = [0, 0, 0, 0, 0.3, 1.8, 7.4, 13.1, 17.9, 15.1, 10.0, 6.6, 4.9, 2.6, 0.8, 0.7, 0.6, 0.5, 0.5, 0.4, 0.3, 0.2, 0.1, 0, 0]
opal_anet_lo = [0, 0, 0, 0, 0.2, 1.0, 4.5, 8.5, 11.0, 9.5, 7.4, 4.6, 3.2, 1.6, 0.4, 0.4, 0.3, 0.3, 0.2, 0.2, 0.2, 0.1, 0, 0, 0]
opal_anet_hi = [0, 0, 0, 0, 0.7, 4.5, 12.0, 19.7, 27.3, 28.4, 19.7, 13.6, 9.0, 5.0, 1.6, 1.4, 1.3, 1.2, 1.1, 1.0, 0.9, 0.5, 0.2, 0.1, 0.1]
opal_ctrl = [0, 0, 0, 0, 0, 0.3, 1.3, 3.9, 8.0, 12.3, 14.6, 12.0, 6.4, 2.3, 0.6, 0.6, 0.6, 0.6, 0.6, 0.6, 0.5, 0.3, 0.1, 0, 0]
opal_ctrl_lo = [0, 0, 0, 0, 0, 0.2, 0.8, 2.5, 5.5, 8.5, 9.5, 8.0, 4.0, 1.3, 0.3, 0.3, 0.3, 0.3, 0.3, 0.3, 0.2, 0.1, 0, 0, 0]
opal_ctrl_hi = [0, 0, 0, 0, 0, 0.4, 2.0, 5.5, 11.0, 16.0, 19.7, 17.7, 10.0, 3.5, 1.0, 1.0, 1.0, 1.0, 1.0, 1.0, 0.8, 0.5, 0.2, 0.1, 0]
opal_mod1 = [0, 0, 0, 0, 0, 0.4, 1.8, 5.9, 11.5, 18.2, 21.5, 19.7, 11.5, 4.4, 1.3, 1.3, 1.3, 1.3, 1.3, 1.3, 1.2, 0.5, 0.2, 0.1, 0]
opal_mod1_lo = [0, 0, 0, 0, 0, 0.2, 1.0, 3.5, 7.5, 12.0, 14.6, 13.5, 7.5, 2.6, 0.7, 0.7, 0.7, 0.7, 0.7, 0.7, 0.6, 0.2, 0.1, 0, 0]
opal_mod1_hi = [0, 0, 0, 0, 0, 0.5, 2.5, 8.0, 16.0, 25.8, 33.0, 30.9, 20.7, 7.0, 2.0, 2.0, 2.0, 2.0, 2.0, 2.0, 1.8, 0.9, 0.3, 0.1, 0]
opal_mod2 = [0, 0, 0, 0, 0, 0.4, 2.3, 8.5, 16.6, 27.3, 36.5, 33.5, 23.8, 8.5, 1.8, 1.8, 1.9, 1.9, 1.9, 1.9, 1.7, 0.8, 0.2, 0.1, 0]
opal_mod2_lo = [0, 0, 0, 0, 0, 0.3, 1.5, 5.0, 10.5, 18.0, 25.8, 23.3, 15.0, 4.5, 1.0, 1.0, 1.0, 1.0, 1.0, 1.0, 0.9, 0.4, 0.1, 0, 0]
opal_mod2_hi = [0, 0, 0, 0, 0, 0.6, 3.5, 10.0, 22.8, 40.1, 51.8, 49.8, 37.0, 13.6, 3.2, 3.0, 3.0, 3.1, 3.1, 3.1, 2.8, 1.3, 0.4, 0.2, 0.1]

W, H = 2349, 1830
FONT = "DejaVu Sans"
COL_PX = [(242, 747), (771, 1276), (1300, 1806), (1830, 2335)]
ROW_PX = [(92, 535), (667, 1111), (1244, 1687)]
LEGEND_PX = [(377, 100), (905, 100), (1435, 100), (2088, 100),
             (500, 677), (905, 677), (1435, 677), (1964, 677),
             (377, 1252), (911, 1252), (1435, 1252), (1964, 1252)]

STYLES = [
    ("ANET", "black", "solid", "rgba(0,0,0,0.2)"),
    ("Ctrl", "#1f77b4", "solid", "rgba(31,119,180,0.3)"),
    ("MOD1", "#e41a1c", "13px,6px", "rgba(228,26,28,0.3)"),
    ("MOD2", "#6a3d9a", "3px,6px", "rgba(106,61,154,0.3)"),
]


def panel_series():
    """Group the per-site lists as (median, low, high) for each of the four sources."""
    sites = [
        (ceilap_anet, ceilap_anet_lo, ceilap_anet_hi, ceilap_ctrl, ceilap_ctrl_lo, ceilap_ctrl_hi,
         ceilap_mod1, ceilap_mod1_lo, ceilap_mod1_hi, ceilap_mod2, ceilap_mod2_lo, ceilap_mod2_hi),
        (punta_anet, punta_anet_lo, punta_anet_hi, punta_ctrl, punta_ctrl_lo, punta_ctrl_hi,
         punta_mod1, punta_mod1_lo, punta_mod1_hi, punta_mod2, punta_mod2_lo, punta_mod2_hi),
        (andenes_anet, andenes_anet_lo, andenes_anet_hi, andenes_ctrl, andenes_ctrl_lo, andenes_ctrl_hi,
         andenes_mod1, andenes_mod1_lo, andenes_mod1_hi, andenes_mod2, andenes_mod2_lo, andenes_mod2_hi),
        (barrow_anet, barrow_anet_lo, barrow_anet_hi, barrow_ctrl, barrow_ctrl_lo, barrow_ctrl_hi,
         barrow_mod1, barrow_mod1_lo, barrow_mod1_hi, barrow_mod2, barrow_mod2_lo, barrow_mod2_hi),
        (escudero_anet, escudero_anet_lo, escudero_anet_hi, escudero_ctrl, escudero_ctrl_lo, escudero_ctrl_hi,
         escudero_mod1, escudero_mod1_lo, escudero_mod1_hi, escudero_mod2, escudero_mod2_lo, escudero_mod2_hi),
        (marambio_anet, marambio_anet_lo, marambio_anet_hi, marambio_ctrl, marambio_ctrl_lo, marambio_ctrl_hi,
         marambio_mod1, marambio_mod1_lo, marambio_mod1_hi, marambio_mod2, marambio_mod2_lo, marambio_mod2_hi),
        (resolute_anet, resolute_anet_lo, resolute_anet_hi, resolute_ctrl, resolute_ctrl_lo, resolute_ctrl_hi,
         resolute_mod1, resolute_mod1_lo, resolute_mod1_hi, resolute_mod2, resolute_mod2_lo, resolute_mod2_hi),
        (thule_anet, thule_anet_lo, thule_anet_hi, thule_ctrl, thule_ctrl_lo, thule_ctrl_hi,
         thule_mod1, thule_mod1_lo, thule_mod1_hi, thule_mod2, thule_mod2_lo, thule_mod2_hi),
        (vech_anet, vech_anet_lo, vech_anet_hi, vech_ctrl, vech_ctrl_lo, vech_ctrl_hi,
         vech_mod1, vech_mod1_lo, vech_mod1_hi, vech_mod2, vech_mod2_lo, vech_mod2_hi),
        (utst_anet, utst_anet_lo, utst_anet_hi, utst_ctrl, utst_ctrl_lo, utst_ctrl_hi,
         utst_mod1, utst_mod1_lo, utst_mod1_hi, utst_mod2, utst_mod2_lo, utst_mod2_hi),
        (horn_anet, horn_anet_lo, horn_anet_hi, horn_ctrl, horn_ctrl_lo, horn_ctrl_hi,
         horn_mod1, horn_mod1_lo, horn_mod1_hi, horn_mod2, horn_mod2_lo, horn_mod2_hi),
        (opal_anet, opal_anet_lo, opal_anet_hi, opal_ctrl, opal_ctrl_lo, opal_ctrl_hi,
         opal_mod1, opal_mod1_lo, opal_mod1_hi, opal_mod2, opal_mod2_lo, opal_mod2_hi),
    ]
    return [[s[i:i + 3] for i in range(0, 12, 3)] for s in sites]


def scaled(values):
    return [v * SCALE for v in values]


def add_panel(fig, k, series):
    """Bands, medians and guide lines for one station."""
    suffix = "" if k == 0 else str(k + 1)
    xa, ya = "x" + suffix, "y" + suffix
    legend = "legend" + suffix
    counts = [N_ANET[k], N_CTRL[k], N_MOD1[k], N_MOD2[k]]

    for r in GUIDE_R:
        fig.add_trace(go.Scatter(x=[r, r], y=[-1, 1], mode="lines", xaxis=xa, yaxis=ya,
                                 line=dict(color="#6e6e6e", width=2, dash="7px,4px"),
                                 showlegend=False, hoverinfo="skip"))

    for (med, lo, hi), (name, color, dash, band) in zip(series, STYLES):
        fig.add_trace(go.Scatter(x=R_UM, y=scaled(lo), mode="lines", xaxis=xa, yaxis=ya,
                                 line=dict(color=band, width=2), showlegend=False, hoverinfo="skip"))
        fig.add_trace(go.Scatter(x=R_UM, y=scaled(hi), mode="lines", xaxis=xa, yaxis=ya,
                                 line=dict(color=band, width=2), fill="tonexty", fillcolor=band,
                                 showlegend=False, hoverinfo="skip"))

    for (med, lo, hi), (name, color, dash, band), n in zip(series, STYLES, counts):
        # leading no-break spaces open a gap between the legend sample and its label
        fig.add_trace(go.Scatter(x=R_UM, y=scaled(med), mode="lines", xaxis=xa, yaxis=ya,
                                 name=f"\u00a0\u00a0\u00a0{name} ({n})", legend=legend,
                                 line=dict(color=color, width=3, dash=dash)))


def text_note(x, y, text, size, **kw):
    """Paper-anchored annotation placed by its centre, in pixel units."""
    return dict(x=x / W, y=1 - y / H, xref="paper", yref="paper", text=text, showarrow=False,
                xanchor="center", yanchor="middle",
                font=dict(size=size, family=FONT, color="black"), **kw)


def main():
    fig = go.Figure()
    for k, series in enumerate(panel_series()):
        add_panel(fig, k, series)

    layout = {}
    annotations = []
    minor_x = [m * 10.0 ** e for e in (-2, -1, 0, 1) for m in range(2, 10)]
    for k in range(12):
        row, col = divmod(k, 4)
        suffix = "" if k == 0 else str(k + 1)
        (x0, x1), (y0, y1) = COL_PX[col], ROW_PX[row]
        axis_common = dict(showline=True, linecolor="black", linewidth=2.5, mirror=True,
                           ticks="outside", ticklen=14, tickwidth=2, tickcolor="black",
                           showgrid=False, zeroline=False, tickfont=dict(size=39, family=FONT))
        layout["xaxis" + suffix] = dict(
            axis_common, type="log", domain=[x0 / W, x1 / W], anchor="y" + suffix,
            range=[-1.79, 1.332], tickvals=[0.1, 1, 10], ticktext=["0.1", "1.0", "10.0"],
            showticklabels=(row == 2), ticklabelstandoff=5,
            minor=dict(tickvals=minor_x, ticks="outside", ticklen=8, tickwidth=1.5, tickcolor="black"))
        layout["yaxis" + suffix] = dict(
            axis_common, domain=[1 - y1 / H, 1 - y0 / H], anchor="x" + suffix,
            range=[-0.0061, 0.1296], tickvals=[0, 0.05, 0.10], ticktext=["0.00", "0.05", "0.10"],
            showticklabels=(col == 0), ticklabelstandoff=14)
        lx, ly = LEGEND_PX[k]
        layout["legend" + suffix] = dict(
            x=lx / W, y=1 - ly / H, xanchor="left", yanchor="top", traceorder="normal",
            bgcolor="rgba(255,255,255,0.85)", bordercolor="#d0d0d0", borderwidth=2,
            font=dict(size=24, family=FONT, color="black"), itemwidth=40, tracegroupgap=0)
        xc = (x0 + x1) / 2
        annotations.append(text_note(xc, y0 - 74, SITES[k], 28))
        annotations.append(text_note(xc, y0 - 42, f"{SEASONS[k]} ({N_DATES[k]} dates)", 28))

    annotations.append(text_note(236, 45, "(a)", 29))
    annotations.append(text_note(1294, 45, "(b)", 29))
    annotations.append(text_note(
        36, 885,
        "<i>Q</i><sub><i>ext</i>, 550nm</sub>(<i>r</i>) <i>dσ</i>/<i>d</i>log <i>r</i> [µm<sup>2</sup>/µm<sup>2</sup>]",
        33, textangle=-90))
    annotations.append(text_note(1247, 1793, "r [µm]", 34))

    fig.update_layout(
        width=W, height=H, margin=dict(l=0, r=0, t=0, b=0),
        paper_bgcolor="white", plot_bgcolor="white",
        font=dict(family=FONT, color="black"),
        annotations=annotations, **layout)

    fig.write_html("out.html")


if __name__ == "__main__":
    main()
